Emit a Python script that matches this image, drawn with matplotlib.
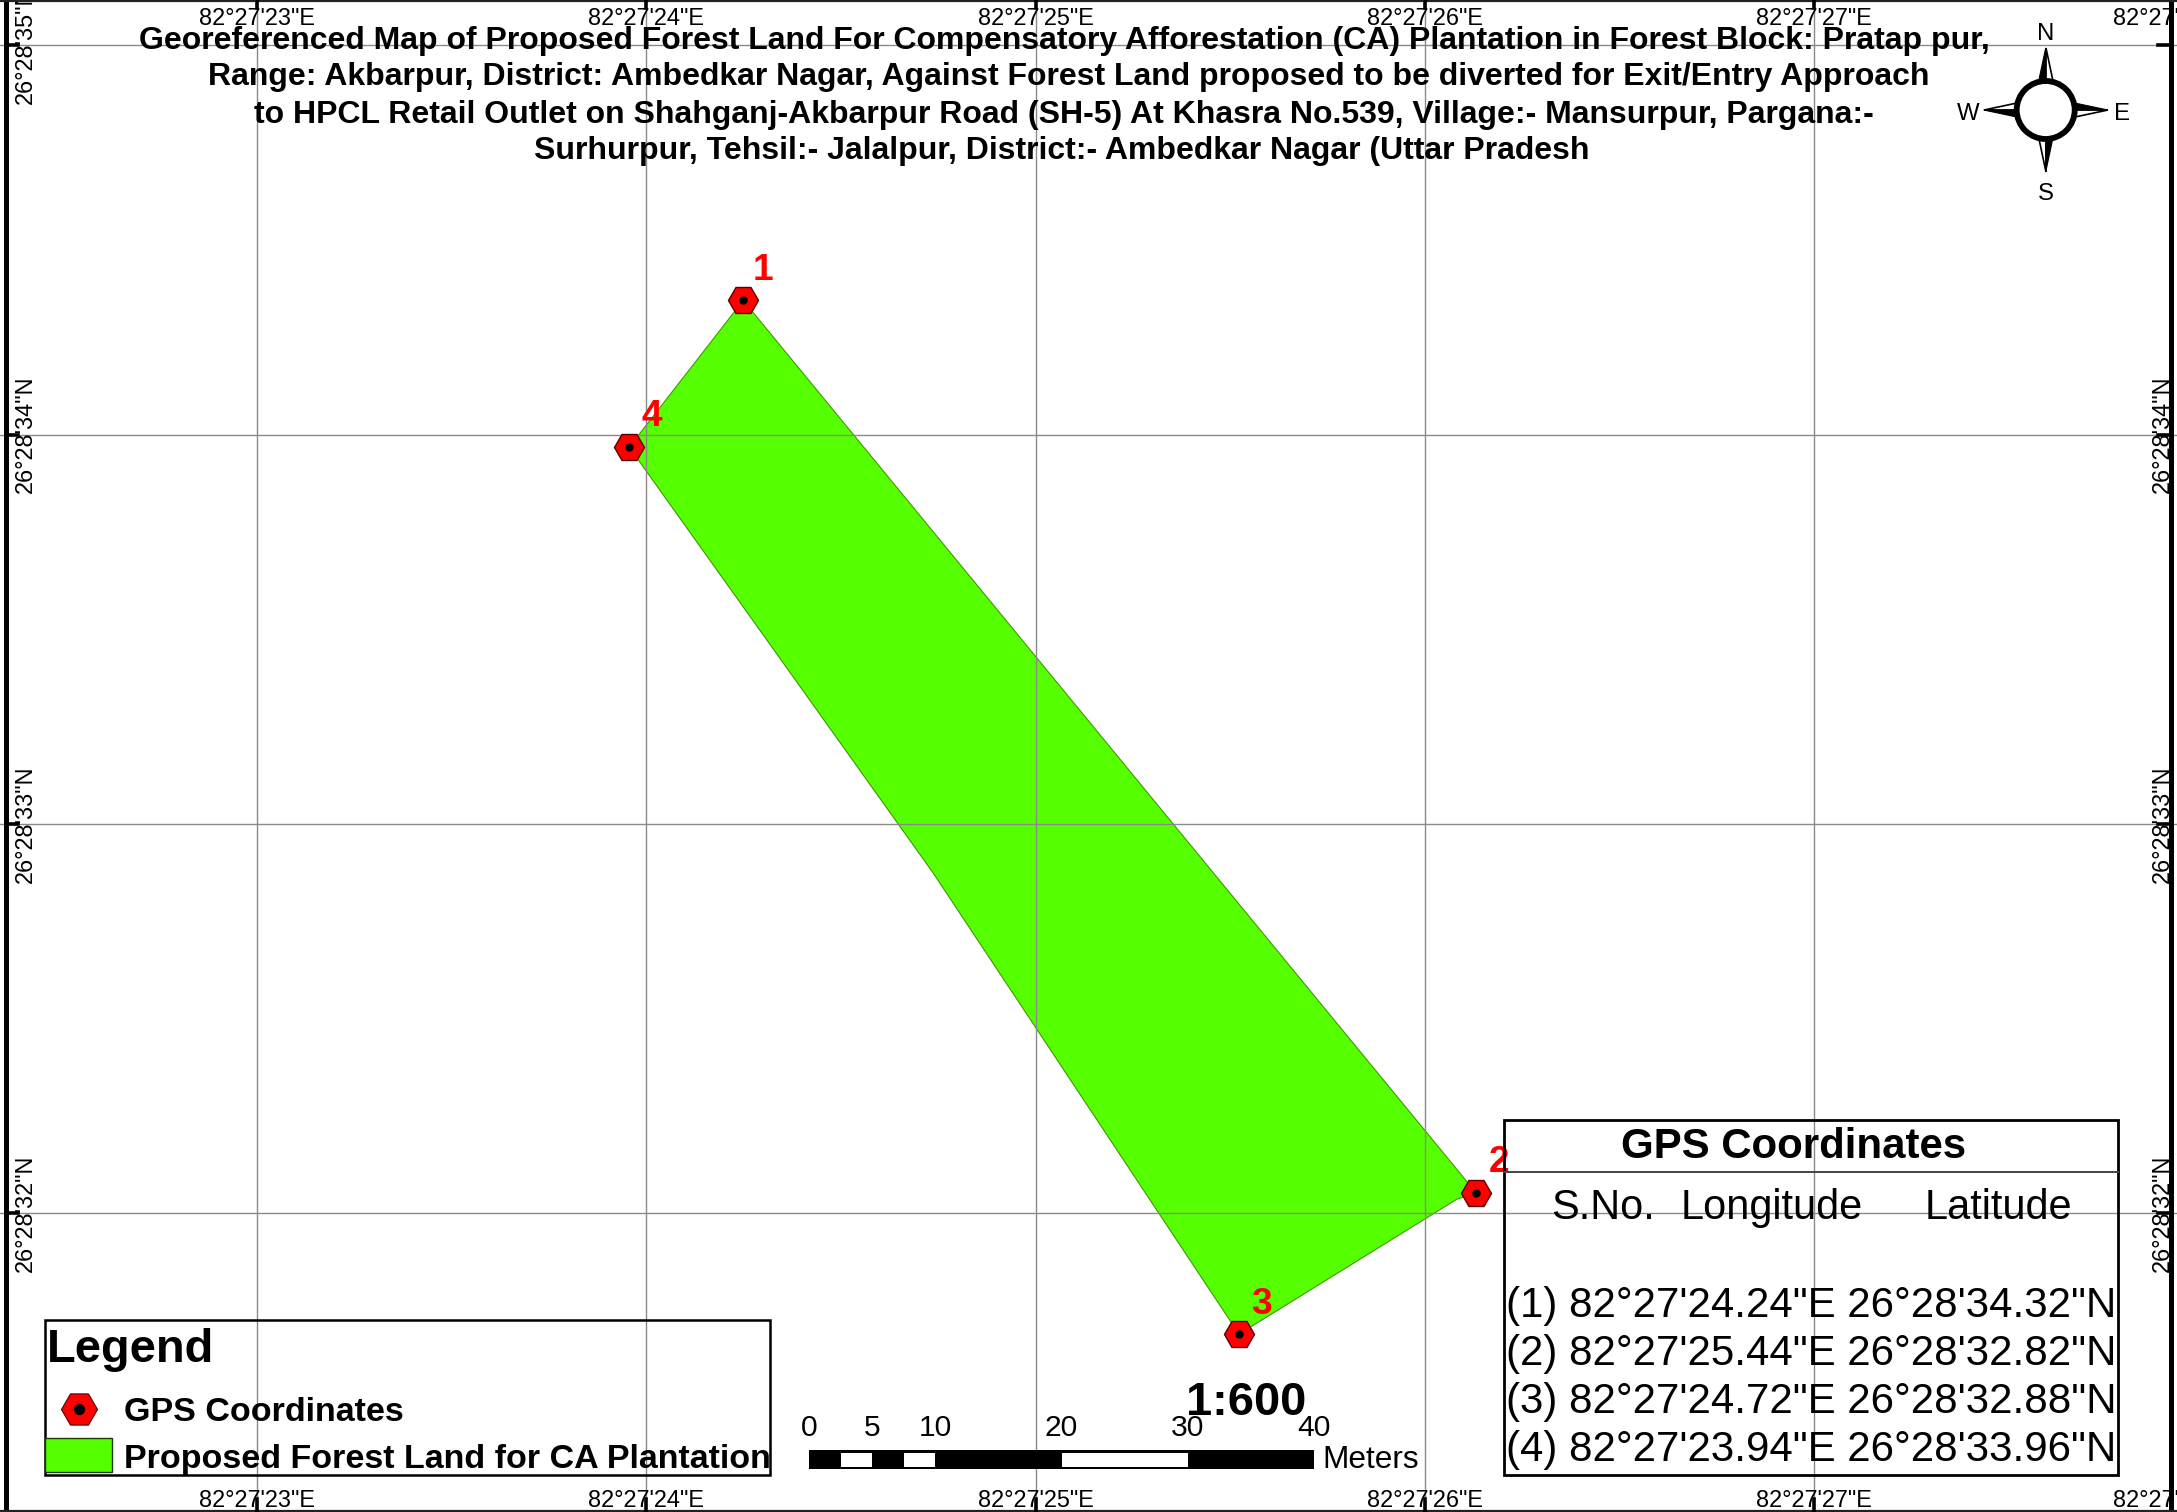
import matplotlib
matplotlib.use("Agg")
import matplotlib.pyplot as plt
from matplotlib.patches import Polygon, Rectangle, Circle

W, H = 2177, 1512
px = 0.72  # pixels to points at dpi 100

plt.rcParams["font.family"] = ["Liberation Sans", "DejaVu Sans"]

# graticule, seconds past 82°27' and 26°28'
lon_ticks = [23, 24, 25, 26, 27]
lat_ticks = [35, 34, 33, 32]
lon_labels = ['82°27\'23"E', '82°27\'24"E', '82°27\'25"E', '82°27\'26"E', '82°27\'27"E']
lat_labels = ['26°28\'35"N', '26°28\'34"N', '26°28\'33"N', '26°28\'32"N']
corner_label = '82°27\'28"E'

# plot outline
area_lon = [24.249, 26.133, 26.083, 25.523, 24.737, 23.956]
area_lat = [34.345, 32.051, 32.036, 31.689, 32.874, 33.968]

# GPS points
point_ids = ["1", "2", "3", "4"]
point_lon = [24.249, 26.133, 25.523, 23.956]
point_lat = [34.345, 32.051, 31.689, 33.968]

title_lines = [
    "Georeferenced Map of Proposed Forest Land For Compensatory Afforestation (CA) Plantation in Forest Block: Pratap pur,",
    "Range: Akbarpur, District: Ambedkar Nagar, Against Forest Land proposed to be diverted for Exit/Entry Approach",
    "to HPCL Retail Outlet on Shahganj-Akbarpur Road (SH-5) At Khasra No.539, Village:- Mansurpur, Pargana:-",
    "Surhurpur, Tehsil:- Jalalpur, District:- Ambedkar Nagar (Uttar Pradesh",
]

table_rows = [
    '(1) 82°27\'24.24"E 26°28\'34.32"N',
    '(2) 82°27\'25.44"E 26°28\'32.82"N',
    '(3) 82°27\'24.72"E 26°28\'32.88"N',
    '(4) 82°27\'23.94"E 26°28\'33.96"N',
]

scale_edges = [0, 2.5, 5, 7.5, 10, 20, 30, 40]
scale_labels = [0, 5, 10, 20, 30, 40]

GREEN = "#55FF00"
GRID = "#8a8a8a"
MID = "center_baseline"

fig = plt.figure(figsize=(W / 100, H / 100), dpi=100)

# map axes in seconds of arc
ax = fig.add_axes([0, 0, 1, 1])
step = 389.2
ax.set_xlim(23 - 257.1 / step, 23 + (W - 257.1) / step)
ax.set_ylim(35 - (H - 45.5) / step, 35 + 45.5 / step)
ax.axis("off")

ax.add_patch(Polygon(list(zip(area_lon, area_lat)), closed=True, fc=GREEN, ec="#3f9a00", lw=0.8, zorder=1))
for v in lon_ticks:
    ax.axvline(v, color=GRID, lw=1.0, zorder=2)
for v in lat_ticks:
    ax.axhline(v, color=GRID, lw=1.0, zorder=2)

ax.plot(point_lon, point_lat, ls="none", marker="H", ms=30 * px, mfc="red", mec="#5a0000", mew=1.0, zorder=4)
ax.plot(point_lon, point_lat, ls="none", marker="o", ms=7 * px, mfc="black", mec="black", zorder=5)

# pixel overlay for everything that sits on the page
pg = fig.add_axes([0, 0, 1, 1], facecolor="none")
pg.set_xlim(0, W)
pg.set_ylim(H, 0)
pg.axis("off")

# frame and ticks
pg.plot([6, 6], [0, H], color="black", lw=3.6, zorder=8)
pg.plot([2171, 2171], [0, H], color="black", lw=3.6, zorder=8)
pg.plot([0, W], [1, 1], color="#222222", lw=1.6, zorder=8)
pg.plot([0, W], [1511, 1511], color="#222222", lw=1.6, zorder=8)

lon_px = [ax.transData.transform((v, 35))[0] for v in lon_ticks]
lat_px = [H - ax.transData.transform((23, v))[1] for v in lat_ticks]
for x in lon_px:
    pg.plot([x, x], [0, 8], color="black", lw=2.6, zorder=8)
    pg.plot([x, x], [1499, H], color="black", lw=2.6, zorder=8)
for y in lat_px:
    pg.plot([6, 18], [y, y], color="black", lw=2.6, zorder=8)
    pg.plot([2158, 2171], [y, y], color="black", lw=2.6, zorder=8)

# graticule labels
for x, s in zip(lon_px + [2171], lon_labels + [corner_label]):
    pg.text(x, 16, s, fontsize=23.5 * px, ha="center", va=MID, clip_on=True)
    pg.text(x, 1498, s, fontsize=23.5 * px, ha="center", va=MID, clip_on=True)
for v, s, y in zip(lat_ticks, lat_labels, lat_px):
    pg.text(25, y, s, fontsize=23.5 * px, rotation=90, ha="center", va="center", clip_on=True)
    if v != 35:
        pg.text(2162, y, s, fontsize=23.5 * px, rotation=90, ha="center", va="center", clip_on=True)

# title
for s, y, x in zip(title_lines, [37, 74, 111, 148], [1064, 1069, 1064, 1062]):
    pg.text(x, y, s, fontsize=32 * px, fontweight="bold", ha="center", va=MID, zorder=6)

# point numbers
for s, x, y in zip(point_ids, [763, 1499, 1261, 652], [266, 1159, 1300, 413]):
    pg.text(x, y, s, color="red", fontsize=37 * px, fontweight="bold", ha="center", va=MID, zorder=6)

# legend box
pg.add_patch(Rectangle((45, 1320), 725, 155, fc="none", ec="black", lw=1.8, zorder=6))
pg.text(47, 1345, "Legend", fontsize=47 * px, fontweight="bold", ha="left", va=MID, zorder=6)
pg.plot([78.5], [1409], marker="H", ms=36 * px, mfc="red", mec="#5a0000", mew=0.8, ls="none", zorder=6)
pg.plot([78.5], [1409], marker="o", ms=10 * px, mfc="black", mec="black", ls="none", zorder=7)
pg.text(124.5, 1409, "GPS Coordinates", fontsize=34 * px, fontweight="bold", ha="left", va=MID, zorder=6)
pg.add_patch(Rectangle((45, 1438), 67, 34, fc=GREEN, ec="#1a3a00", lw=1.0, zorder=6))
pg.text(124.5, 1456, "Proposed Forest Land for CA Plantation", fontsize=34 * px, fontweight="bold",
        ha="left", va=MID, zorder=6)

# scale bar
x0, per_m = 809, 505 / 40
for i, (a, b) in enumerate(zip(scale_edges[:-1], scale_edges[1:])):
    xa, xb = x0 + a * per_m, x0 + b * per_m
    pg.add_patch(Rectangle((xa, 1450), xb - xa, 19, fc="black", ec="none", zorder=6))
    if i % 2 == 1:
        pg.add_patch(Rectangle((xa, 1452.5), xb - xa, 14, fc="white", ec="none", zorder=7))
for v in scale_labels:
    pg.text(x0 + v * per_m, 1425, str(v), fontsize=30 * px, ha="center", va=MID, zorder=6)
pg.text(1322, 1457, "Meters", fontsize=31.5 * px, ha="left", va=MID, zorder=6)
pg.text(1246, 1398, "1:600", fontsize=47 * px, fontweight="bold", ha="center", va=MID, zorder=6)

# coordinates table
pg.add_patch(Rectangle((1504, 1120), 614, 355, fc="none", ec="black", lw=2.0, zorder=6))
pg.plot([1504, 2118], [1172, 1172], color="#444444", lw=1.4, zorder=6)
pg.text(1794, 1143, "GPS Coordinates", fontsize=42 * px, fontweight="bold", ha="center", va=MID, zorder=6)
for s, x in zip(["S.No.", "Longitude", "Latitude"], [1551, 1681, 1925]):
    pg.text(x, 1219, s, fontsize=41.5 * px, ha="left", va="baseline", zorder=6)
for s, y in zip(table_rows, [1317, 1365, 1413, 1461]):
    pg.text(1506, y, s, fontsize=42 * px, ha="left", va="baseline", zorder=6)

# north arrow
cx, cy = 2045.7, 110
pg.add_patch(Circle((cx, cy), 29, fc="white", ec="black", lw=4.2, zorder=7))
spikes = [(0, -1), (1, 0), (0, 1), (-1, 0)]
for dx, dy in spikes:
    nx, ny = dy, -dx  # side that stays black, turns with the spike
    tip = (cx + dx * 62, cy + dy * 62)
    base = (cx + dx * 29, cy + dy * 29)
    black_side = (base[0] + nx * 7, base[1] + ny * 7)
    white_side = (base[0] - nx * 7, base[1] - ny * 7)
    pg.add_patch(Polygon([tip, base, white_side], closed=True, fc="white", ec="black", lw=1.2, zorder=6))
    pg.add_patch(Polygon([tip, black_side, base], closed=True, fc="black", ec="black", lw=0.8, zorder=6))
for s, x, y in zip("NSWE", [2045.7, 2045.7, 1968, 2122], [32, 191, 111, 111]):
    pg.text(x, y, s, fontsize=24 * px, ha="center", va=MID, zorder=6)

fig.savefig("out.png", dpi=100, facecolor="white")
